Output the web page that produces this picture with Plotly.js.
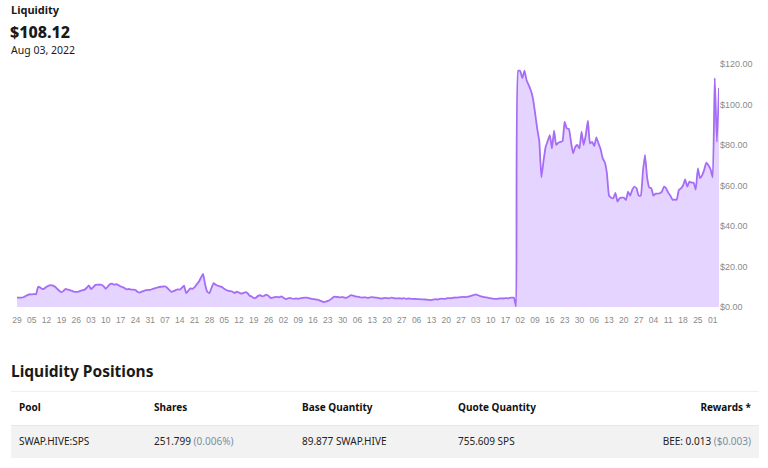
<!DOCTYPE html>
<html>
<head>
<meta charset="utf-8">
<script src="https://cdn.plot.ly/plotly-3.0.1.min.js"></script>
<style>
  html, body { margin:0; padding:0; background:#fff; width:768px; height:468px; overflow:hidden; font-family:"Noto Sans", sans-serif; color:#1a1a1a; }
  .abs { position:absolute; white-space:nowrap; z-index:2; }
  #chart { position:absolute; left:0; top:55px; width:768px; height:290px; z-index:1; }
</style>
</head>
<body>
<div class="abs" style="left:11px; top:2px; font-size:11px; font-weight:700;">Liquidity</div>
<div class="abs" style="left:10px; top:21px; font-size:16px; font-weight:800;">$108.12</div>
<div class="abs" style="left:11px; top:43px; font-size:10.5px;">Aug 03, 2022</div>
<div id="chart"></div>

<div class="abs" style="left:11px; top:360px; font-size:15.5px; font-weight:700;">Liquidity Positions</div>
<div class="abs" style="left:11px; top:391px; width:748px; height:1px; background:#eef0f2;"></div>
<div class="abs" style="left:11px; top:425px; width:748px; height:33px; background:#f2f2f2;"></div>
<div class="abs" style="left:11px; top:425px; width:748px; height:1px; background:#e3e8ed;"></div>
<div id="thead"></div>
<div id="trow"></div>

<script>
// Header texts of the table
const tableHeaders = ["Pool", "Shares", "Base Quantity", "Quote Quantity", "Rewards *"];
const tableRow = ["SWAP.HIVE:SPS", "251.799", "(0.006%)", "89.877 SWAP.HIVE", "755.609 SPS", "BEE: 0.013", "($0.003)"];

// Weekly tick labels (day of month)
const tickLabels = ["29","05","12","19","26","03","10","17","24","31","07","14","21","28","05","12","19","26",
  "02","09","16","23","30","06","13","20","27","06","13","20","27","03","10","17",
  "02","09","16","23","30","06","13","20","27","04","11","18","25","01"];

// Daily liquidity values in USD
const liquidity = [
  4.6, 4.6, 4.6, 4.8, 5.4, 5.9, 6.3, 6.2, 6.4, 6.3,
  10.0, 9.6, 8.8, 9.2, 10.0, 10.6, 10.8, 10.6, 10.0, 9.0,
  8.0, 7.3, 8.0, 8.9, 8.6, 8.3, 8.0, 7.6, 7.5, 7.6,
  8.0, 8.3, 8.6, 9.5, 10.7, 8.8, 9.8, 10.8, 11.0, 11.0,
  11.0, 10.2, 9.0, 10.2, 11.3, 11.5, 11.0, 11.3, 10.8, 10.2,
  9.8, 9.2, 8.7, 8.9, 8.6, 8.6, 8.4, 7.5, 7.1, 7.6,
  8.0, 8.3, 8.4, 8.5, 8.9, 9.2, 9.5, 9.8, 10.0, 10.1,
  10.2, 9.5, 8.4, 7.5, 7.8, 8.3, 8.7, 8.6, 9.5, 10.5,
  6.9, 8.0, 9.2, 9.0, 9.8, 11.2, 12.5, 14.5, 16.3, 11.0,
  7.5, 6.9, 9.5, 11.8, 11.0, 10.5, 10.2, 9.8, 9.0, 8.4,
  8.0, 7.8, 7.5, 6.9, 7.6, 7.1, 6.6, 6.9, 7.3, 6.9,
  5.6, 5.2, 4.4, 4.6, 5.5, 5.8, 5.2, 5.6, 6.1, 5.4,
  4.4, 4.6, 4.9, 5.0, 4.8, 5.2, 4.6, 3.9, 4.2, 4.5,
  4.2, 4.0, 4.3, 4.0, 4.3, 4.5, 4.6, 4.6, 4.4, 4.1,
  3.9, 3.8, 3.6, 3.3, 2.9, 2.4, 2.6, 3.0, 3.5, 4.3,
  5.1, 5.0, 4.9, 4.8, 4.9, 4.6, 4.6, 5.2, 5.9, 5.6,
  5.3, 5.1, 4.9, 4.6, 4.8, 4.7, 4.5, 4.8, 4.9, 4.7,
  4.6, 4.4, 4.2, 4.3, 4.5, 4.4, 4.3, 4.6, 4.4, 4.2,
  4.3, 4.3, 4.1, 4.4, 4.0, 4.2, 4.1, 4.0, 4.0, 3.9,
  3.9, 3.8, 3.8, 3.7, 3.6, 3.5, 3.4, 3.7, 3.9, 3.7,
  4.0, 4.1, 4.0, 4.2, 4.4, 4.3, 4.5, 4.7, 4.6, 4.8,
  4.9, 5.0, 4.9, 5.1, 5.3, 5.6, 5.9, 6.2, 5.8, 5.4,
  5.1, 4.9, 4.7, 4.5, 4.3, 4.1, 4.0, 4.0, 4.2, 4.3,
  4.2, 4.4, 4.3, 4.5, 4.6, 4.6, 0.3,
  116.7, 116.5, 113,
  116.7, 112, 109.6, 107, 103, 96, 88.2, 82, 64, 72,
  79, 82, 84.9, 78.3, 87.1, 80, 81.1, 81.5, 82, 91.5,
  88.2, 88, 81.5, 75.9, 79, 80, 78.3, 86.6, 80, 85,
  92, 80.8, 81.5, 79.5, 83.8, 80.8, 78, 73.4, 71.5, 66,
  55, 54, 53.7, 56.4, 52, 53.7, 54, 54, 52.8, 57,
  55, 58, 59.4, 58.6, 55, 55, 66.8, 75.1, 64, 59,
  58.6, 55, 56, 56, 56.2, 57, 59.4, 58.6, 56.5, 55,
  53, 53, 53, 57.8, 58.6, 60, 63, 59.4, 61.9, 61.4,
  61.4, 58, 68.5, 63.6, 65, 67.7, 71.3, 70, 68, 64,
  113, 81.5, 108.12
];

const yTicks = [0, 20, 40, 60, 80, 100, 120];

// ---- table rendering ----
const headPos = [{l:19},{l:154},{l:302},{l:458},{r:17}];
let hh = "";
tableHeaders.forEach((t,i)=>{
  const p = headPos[i];
  const pos = p.l !== undefined ? `left:${p.l}px;` : `right:${p.r}px;`;
  hh += `<div class="abs" style="${pos} top:400px; font-size:10px; font-weight:700; color:#111;">${t}</div>`;
});
document.getElementById("thead").innerHTML = hh;
const muted = "#7d8fa3";
let rr = "";
rr += `<div class="abs" style="left:19px; top:434px; font-size:10px; color:#222;">${tableRow[0]}</div>`;
rr += `<div class="abs" style="left:154px; top:434px; font-size:10px; color:#222;">${tableRow[1]} <span style="color:${muted}">${tableRow[2]}</span></div>`;
rr += `<div class="abs" style="left:302px; top:434px; font-size:10px; color:#222;">${tableRow[3]}</div>`;
rr += `<div class="abs" style="left:458px; top:434px; font-size:10px; color:#222;">${tableRow[4]}</div>`;
rr += `<div class="abs" style="right:17px; top:434px; font-size:10px; color:#222;">${tableRow[5]} <span style="color:${muted}">${tableRow[6]}</span></div>`;
document.getElementById("trow").innerHTML = rr;

// ---- chart ----
const xIdx = liquidity.map((_, i) => i);
const tickVals = tickLabels.map((_, k) => k * 7);

Plotly.newPlot("chart", [{
  x: xIdx,
  y: liquidity,
  type: "scatter",
  mode: "lines",
  fill: "tozeroy",
  fillcolor: "rgba(229,212,255,1)",
  line: { color: "#a56cf6", width: 1.8, shape: "spline", smoothing: 0.4 },
  hoverinfo: "skip"
}], {
  width: 768, height: 290,
  margin: { l: 17, r: 49, t: 9, b: 38 },
  paper_bgcolor: "rgba(0,0,0,0)", plot_bgcolor: "rgba(0,0,0,0)",
  showlegend: false,
  xaxis: {
    range: [0, liquidity.length - 1],
    tickmode: "array", tickvals: tickVals, ticktext: tickLabels,
    showgrid: false, zeroline: false, showline: false, ticks: "",
    tickangle: 0, ticklabelstandoff: 6,
    tickfont: { family: "Liberation Sans, Arial, sans-serif", size: 8.5, color: "#8a8a8a" },
    fixedrange: true
  },
  yaxis: {
    side: "right", range: [0, 120],
    tickmode: "array", tickvals: yTicks, ticktext: yTicks.map(v => "$" + v.toFixed(2)),
    showgrid: false, zeroline: false, showline: false, ticks: "",
    tickfont: { family: "Liberation Sans, Arial, sans-serif", size: 9, color: "#8a8a8a" },
    fixedrange: true
  }
}, { displayModeBar: false, staticPlot: true });
</script>
</body>
</html>
